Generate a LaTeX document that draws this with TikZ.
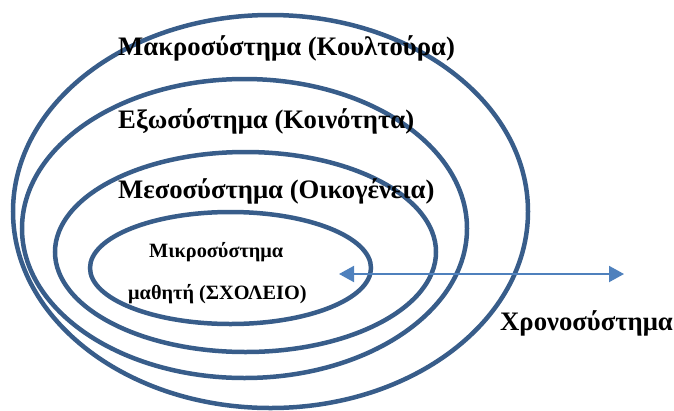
\documentclass[tikz,border=0pt]{standalone}
\usepackage{fontspec}
\setmainfont{Liberation Serif}
\usetikzlibrary{shapes.geometric,arrows.meta}
\definecolor{ringblue}{HTML}{385D8A}
\definecolor{arrowblue}{HTML}{4F81BD}
\tikzset{
  ring/.style={draw=ringblue, line width=4.5pt, ellipse, inner sep=0pt},
  biglabel/.style={anchor=base west, inner sep=0pt, font=\bfseries\fontsize{26.7}{32}\selectfont},
  smalllabel/.style={anchor=base west, inner sep=0pt, font=\bfseries\fontsize{20.3}{24}\selectfont},
  timearrow/.style={draw=arrowblue, line width=2pt, {Triangle[length=15pt,width=16pt]}-{Triangle[length=15pt,width=16pt]}}
}
\begin{document}
\begin{tikzpicture}[x=1pt,y=-1pt]
\useasboundingbox (0,0) rectangle (674,410);
\node[ring, minimum width=515pt, minimum height=393pt] (macro) at (270.5,211.5) {};
\node[ring, minimum width=445pt, minimum height=299pt] (exo) at (244.5,228.5) {};
\node[ring, minimum width=381pt, minimum height=200pt] (meso) at (245.5,252) {};
\node[ring, minimum width=281pt, minimum height=112pt] (micro) at (230.5,268) {};
\node[biglabel] (tmacro) at (118,55) {Μακροσύστημα (Κουλτούρα)};
\node[biglabel] (texo) at (118,128) {Εξωσύστημα (Κοινότητα)};
\node[biglabel] (tmeso) at (118,198) {Μεσοσύστημα (Οικογένεια)};
\node[smalllabel] (tmicro1) at (149,257) {Μικροσύστημα};
\node[smalllabel] (tmicro2) at (128,299) {μαθητή (ΣΧΟΛΕΙΟ)};
\node[biglabel] (tchrono) at (500,330) {Χρονοσύστημα};
\coordinate (al) at (339,274);
\coordinate (ar) at (624,274);
\draw[timearrow] (al) -- (ar);
\end{tikzpicture}
\end{document}
